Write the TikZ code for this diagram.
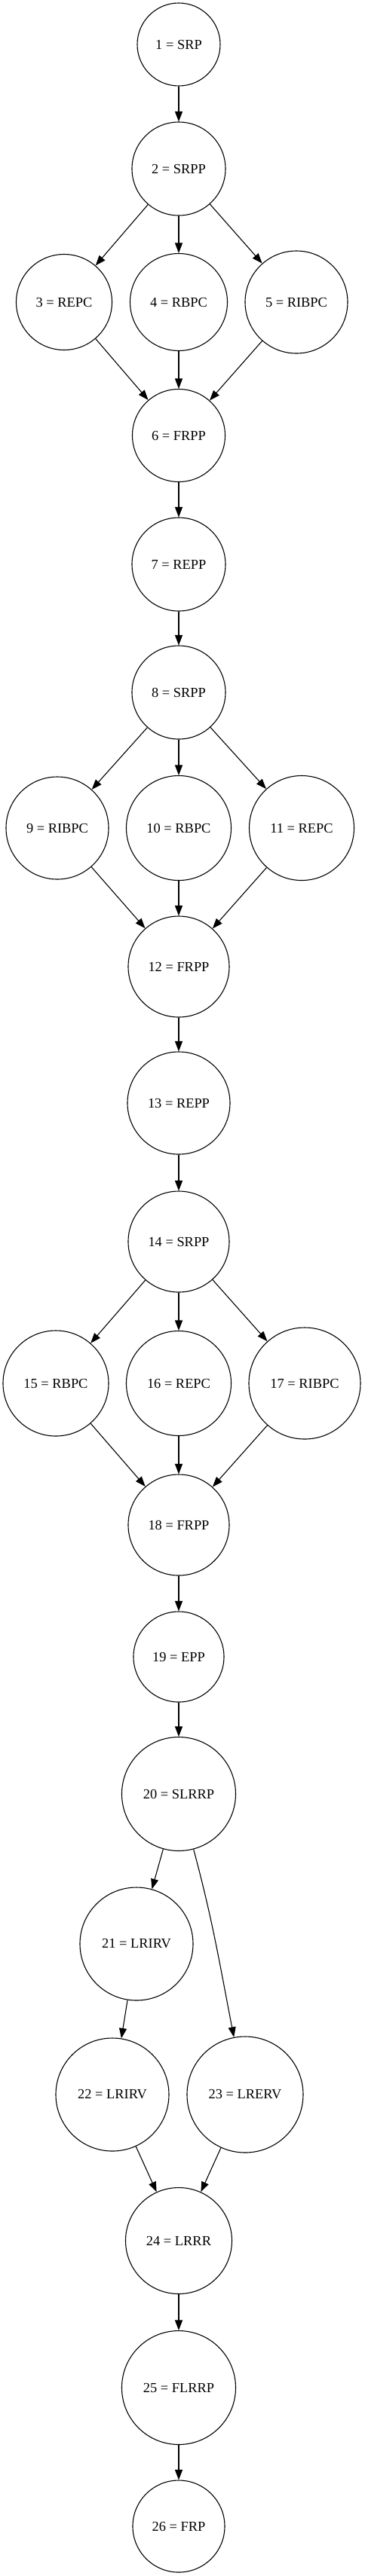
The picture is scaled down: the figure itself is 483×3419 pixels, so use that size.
\documentclass[tikz,border=0pt]{standalone}
\usepackage{fontspec}
\setmainfont{Liberation Serif}
\usetikzlibrary{arrows.meta}

\begin{document}
\begin{tikzpicture}[x=1pt, y=1pt, line width=1.1pt,
  state/.style={circle, draw, inner sep=0pt, minimum size=#1, font=\fontsize{18.4}{22}\selectfont},
  >={Triangle[length=13.5pt, width=10pt]}]
  \useasboundingbox (0,0) rectangle (483,-3419);
  \node[state=110] (n1) at (237,-59) {1 = SRP};
  \node[state=124] (n2) at (237,-224) {2 = SRPP};
  \node[state=127] (n3) at (85,-401) {3 = REPC};
  \node[state=129] (n4) at (237,-401) {4 = RBPC};
  \node[state=136] (n5) at (393,-401) {5 = RIBPC};
  \node[state=123] (n6) at (237,-578) {6 = FRPP};
  \node[state=124] (n7) at (237,-749) {7 = REPP};
  \node[state=124] (n8) at (237,-919) {8 = SRPP};
  \node[state=136] (n9) at (76,-1099) {9 = RIBPC};
  \node[state=139] (n10) at (237,-1099) {10 = RBPC};
  \node[state=139] (n11) at (400,-1099) {11 = REPC};
  \node[state=134] (n12) at (237,-1283) {12 = FRPP};
  \node[state=136] (n13) at (237,-1464) {13 = REPP};
  \node[state=134] (n14) at (237,-1648) {14 = SRPP};
  \node[state=140] (n15) at (74,-1836) {15 = RBPC};
  \node[state=139] (n16) at (237,-1836) {16 = REPC};
  \node[state=148] (n17) at (404,-1836) {17 = RIBPC};
  \node[state=134] (n18) at (237,-2024) {18 = FRPP};
  \node[state=120] (n19) at (237,-2199) {19 = EPP};
  \node[state=151] (n20) at (237,-2381) {20 = SLRRP};
  \node[state=150] (n21) at (181,-2580) {21 = LRIRV};
  \node[state=150] (n22) at (149,-2780) {22 = LRIRV};
  \node[state=154] (n23) at (325,-2780) {23 = LRERV};
  \node[state=141] (n24) at (237,-2974) {24 = LRRR};
  \node[state=151] (n25) at (237,-3169) {25 = FLRRP};
  \node[state=122] (n26) at (237,-3353) {26 = FRP};
  \path[->]
  (n1) edge (n2)
  (n2) edge (n3) (n2) edge (n4) (n2) edge (n5)
  (n3) edge (n6) (n4) edge (n6) (n5) edge (n6)
  (n6) edge (n7)
  (n7) edge (n8)
  (n8) edge (n9) (n8) edge (n10) (n8) edge (n11)
  (n9) edge (n12) (n10) edge (n12) (n11) edge (n12)
  (n12) edge (n13)
  (n13) edge (n14)
  (n14) edge (n15) (n14) edge (n16) (n14) edge (n17)
  (n15) edge (n18) (n16) edge (n18) (n17) edge (n18)
  (n18) edge (n19)
  (n19) edge (n20)
  (n20) edge (n21)
  (n20) edge [out=-75, in=101] (n23)
  (n21) edge (n22)
  (n22) edge (n24) (n23) edge (n24)
  (n24) edge (n25)
  (n25) edge (n26);
\end{tikzpicture}
\end{document}
